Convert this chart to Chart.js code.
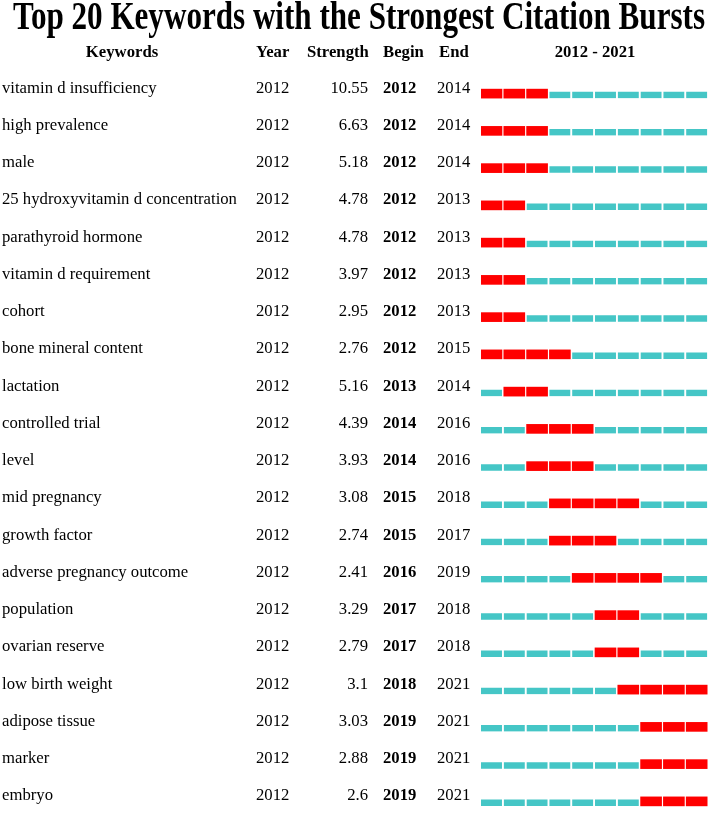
<!DOCTYPE html>
<html>
<head>
<meta charset="utf-8">
<script src="https://cdn.jsdelivr.net/npm/chart.js@4.4.0/dist/chart.umd.min.js"></script>
<style>
    html, body { margin: 0; padding: 0; background: #fff; overflow: hidden; }
    #wrap { position: relative; width: 709px; height: 820px; }
</style>
</head>
<body>
<div id="wrap"><canvas id="chart-burst"></canvas></div>
<script>
// Burst data
const keywords = [
    'vitamin d insufficiency', 'high prevalence', 'male', '25 hydroxyvitamin d concentration',
    'parathyroid hormone', 'vitamin d requirement', 'cohort', 'bone mineral content',
    'lactation', 'controlled trial', 'level', 'mid pregnancy', 'growth factor',
    'adverse pregnancy outcome', 'population', 'ovarian reserve', 'low birth weight',
    'adipose tissue', 'marker', 'embryo'
];
const firstYear = [2012, 2012, 2012, 2012, 2012, 2012, 2012, 2012, 2012, 2012,
                   2012, 2012, 2012, 2012, 2012, 2012, 2012, 2012, 2012, 2012];
const strength = ['10.55', '6.63', '5.18', '4.78', '4.78', '3.97', '2.95', '2.76', '5.16', '4.39',
                  '3.93', '3.08', '2.74', '2.41', '3.29', '2.79', '3.1', '3.03', '2.88', '2.6'];
const beginYear = [2012, 2012, 2012, 2012, 2012, 2012, 2012, 2012, 2013, 2014,
                   2014, 2015, 2015, 2016, 2017, 2017, 2018, 2019, 2019, 2019];
const endYear = [2014, 2014, 2014, 2013, 2013, 2013, 2013, 2015, 2014, 2016,
                 2016, 2018, 2017, 2019, 2018, 2018, 2021, 2021, 2021, 2021];
const years = [2012, 2013, 2014, 2015, 2016, 2017, 2018, 2019, 2020, 2021];

const RED = '#FF0000';
const TEAL = '#45C6C6';
const SERIF = '"Liberation Serif", "Times New Roman", serif';
const FS = '16.7px ';

// one dataset per year slot, red inside the burst window
const datasets = years.map(yr => ({
    label: String(yr),
    data: keywords.map(() => [yr, yr + 0.92]),
    backgroundColor: keywords.map((k, i) => (yr >= beginYear[i] && yr <= endYear[i]) ? RED : TEAL),
    borderColor: '#ffffff',
    borderWidth: ctx => {
        const i = ctx.dataIndex;
        const hot = yr >= beginYear[i] && yr <= endYear[i];
        return { top: hot ? 0 : 3, left: 0, right: 0, bottom: 0 };
    },
    borderSkipped: false,
    barThickness: 9,
    grouped: false
}));

const textColumns = {
    id: 'textColumns',
    afterDraw(chart) {
        const ctx = chart.ctx;
        const y = chart.scales.y;
        const area = chart.chartArea;
        ctx.save();
        ctx.fillStyle = '#000';
        ctx.textBaseline = 'alphabetic';

        // title, squeezed to fit
        ctx.font = 'bold 39px ' + SERIF;
        const title = 'Top 20 Keywords with the Strongest Citation Bursts';
        const tw = ctx.measureText(title).width;
        ctx.save();
        ctx.translate(13, 29);
        ctx.scale(692 / tw, 1);
        ctx.textAlign = 'left';
        ctx.fillText(title, 0, 0);
        ctx.restore();

        // header row
        const hy = 56.5;
        ctx.font = 'bold ' + FS + SERIF;
        ctx.textAlign = 'center';
        ctx.fillText('Keywords', 122, hy);
        ctx.fillText(years[0] + ' - ' + years[years.length - 1], (area.left + area.right) / 2, hy);
        ctx.textAlign = 'left';
        ctx.fillText('Year', 256, hy);
        ctx.fillText('Strength', 307, hy);
        ctx.fillText('Begin', 383, hy);
        ctx.fillText('End', 439, hy);

        // rows
        keywords.forEach((k, i) => {
            const by = y.getPixelForValue(i) - 1;
            ctx.font = FS + SERIF;
            ctx.textAlign = 'left';
            ctx.fillText(k, 2, by);
            ctx.fillText(String(firstYear[i]), 256, by);
            ctx.fillText(String(endYear[i]), 437, by);
            ctx.textAlign = 'right';
            ctx.fillText(strength[i], 368, by);
            ctx.font = 'bold ' + FS + SERIF;
            ctx.textAlign = 'left';
            ctx.fillText(String(beginYear[i]), 383, by);
        });
        ctx.restore();
    }
};

new Chart(document.getElementById('chart-burst'), {
    type: 'bar',
    data: { labels: keywords, datasets },
    options: {
        indexAxis: 'y',
        responsive: true,
        maintainAspectRatio: false,
        animation: false,
        layout: { padding: { left: 481, right: 0, top: 75, bottom: 0 } },
        plugins: {
            legend: { display: false },
            tooltip: { enabled: false },
            title: { display: false }
        },
        scales: {
            x: { type: 'linear', min: years[0], max: years[years.length - 1] + 1, display: false },
            y: { type: 'category', display: false, offset: true }
        }
    },
    plugins: [textColumns]
});
</script>
</body>
</html>
